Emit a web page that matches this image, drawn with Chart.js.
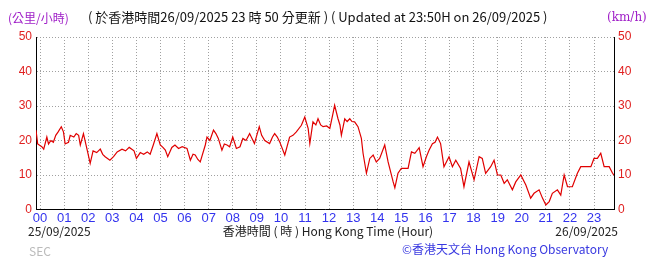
<!DOCTYPE html>
<html>
<head>
<meta charset="utf-8">
<script src="https://cdn.jsdelivr.net/npm/chart.js@4"></script>
<style>
  body { margin: 0; background: #fff; }
  #wrap { width: 655px; height: 259px; }
</style>
</head>
<body>
<div id="wrap"><canvas id="windChart" width="655" height="259"></canvas></div>
<script>
// time of each reading, hours after 00:00 HKT on 25/09/2025
const hours = [
  -0.17, -0.1, 0.07, 0.15, 0.28, 0.35, 0.45, 0.55, 0.65, 0.75, 0.88, 0.97,
  1.04, 1.18, 1.25, 1.4, 1.5, 1.6, 1.67, 1.8, 1.94, 2.08, 2.2, 2.35, 2.5, 2.6,
  2.7, 2.9, 3.05, 3.2, 3.4, 3.55, 3.7, 3.9, 4.0, 4.16, 4.3, 4.45, 4.57, 4.7,
  4.85, 4.99, 5.1, 5.2, 5.3, 5.47, 5.6, 5.75, 5.9, 6.1, 6.24, 6.35, 6.44, 6.55,
  6.65, 6.86, 6.93, 7.05, 7.2, 7.3, 7.4, 7.55, 7.65, 7.76, 7.87, 8.0, 8.15,
  8.3, 8.42, 8.55, 8.7, 8.9, 9.1, 9.2, 9.33, 9.53, 9.65, 9.74, 9.85, 9.95,
  10.16, 10.36, 10.5, 10.64, 10.85, 10.99, 11.13, 11.2, 11.33, 11.45, 11.54,
  11.65, 11.75, 11.9, 12.03, 12.16, 12.23, 12.37, 12.45, 12.51, 12.65, 12.75,
  12.86, 12.95, 13.06, 13.2, 13.34, 13.41, 13.55, 13.69, 13.83, 13.96, 14.1,
  14.31, 14.45, 14.66, 14.73, 14.86, 15.0, 15.28, 15.42, 15.56, 15.74, 15.9,
  16.04, 16.15, 16.29, 16.4, 16.5, 16.63, 16.77, 16.98, 17.12, 17.26, 17.46,
  17.6, 17.81, 18.02, 18.23, 18.36, 18.5, 18.71, 18.85, 18.99, 19.13, 19.27,
  19.4, 19.61, 19.75, 19.96, 20.17, 20.37, 20.51, 20.72, 20.86, 21.0, 21.14,
  21.27, 21.48, 21.62, 21.76, 21.9, 22.1, 22.31, 22.45, 22.66, 22.87, 23.0,
  23.14, 23.28, 23.42, 23.63, 23.77, 23.83
];
// wind speed, km/h
const speeds = [
  23, 19, 18.2, 17.5, 21, 19, 20, 19.5, 21.5, 22.5, 24, 22.5,
  19, 19.5, 21.5, 21, 22, 21.5, 18.7, 22, 17.7, 13.4, 17, 16.5, 17.5, 16,
  15.3, 14.3, 15.3, 16.7, 17.5, 17, 18, 17, 14.8, 16.5, 16, 16.7, 16, 18.7,
  22, 18.7, 18, 17.2, 15.3, 18, 18.7, 17.7, 18.2, 17.7, 14.3, 16, 15.8, 14.5,
  13.8, 18.7, 21, 20, 23, 22, 20.6, 17.2, 19, 18.7, 18.2, 21, 17.7,
  18.2, 20.6, 20, 22, 19.1, 24, 21.5, 20, 19.1, 21, 22, 21, 19.6,
  15.8, 21, 21.5, 22.5, 24.4, 26.8, 23.5, 19.1, 25.4, 24.5, 26.3,
  24.5, 24, 24.2, 23.5, 27.8, 30.2, 26.3, 24.5, 21.5, 26.3, 25.5,
  26.3, 25.5, 25.4, 24, 20.6, 16.3, 10.5, 14.8, 15.8, 13.8, 14.8,
  18.7, 13.8, 8, 6.3, 10.5, 11.9, 11.9, 16.7, 16.3, 17.9, 12.4,
  15.3, 17.2, 19.1, 19.5, 21, 19.1, 12.4, 15.3, 12.4, 14.3, 11.9,
  6.6, 13.8, 8.6, 15.3, 14.8, 10.5, 12.4, 14.3, 10, 10, 7.6,
  8.6, 5.7, 8, 10, 7.1, 3.3, 4.7, 5.7, 3.3, 1.3, 2.3,
  4.7, 5.7, 4.2, 10, 6.6, 6.6, 10.5, 12.4, 12.4, 12.4, 14.8,
  14.8, 16.3, 12.4, 12.4, 10.5, 10
];
const hourTicks = [0, 1, 2, 3, 4, 5, 6, 7, 8, 9, 10, 11, 12, 13, 14, 15, 16, 17, 18, 19, 20, 21, 22, 23];
const hourLabels = ["00", "01", "02", "03", "04", "05", "06", "07", "08", "09", "10", "11",
  "12", "13", "14", "15", "16", "17", "18", "19", "20", "21", "22", "23"];
const speedTicks = [0, 10, 20, 30, 40, 50];

const points = hours.map((h, i) => ({ x: h, y: speeds[i] }));

const cjk = "'Noto Sans CJK TC', 'Open Sans', sans-serif";
const narrow = "'Liberation Sans Narrow', 'Liberation Sans', Arial, sans-serif";

// header, footer and unit texts
const textPlugin = {
  id: "texts",
  afterDraw(chart) {
    const ctx = chart.ctx;
    ctx.save();
    ctx.textBaseline = "middle";
    ctx.textAlign = "left";

    ctx.fillStyle = "#a020c8";
    ctx.font = "12px " + cjk;
    ctx.fillText("(公里/小時)", 8, 18);
    ctx.font = "12px 'DejaVu Serif', serif";
    ctx.fillText("(km/h)", 607, 18);

    ctx.fillStyle = "#111";
    ctx.font = "13px " + cjk;
    ctx.fillText("( 於香港時間26/09/2025 23 時 50 分更新 ) ( Updated at 23:50H on 26/09/2025 )", 88, 17);

    ctx.font = "12px " + cjk;
    ctx.fillStyle = "#222";
    ctx.fillText("25/09/2025", 28, 231);
    ctx.textAlign = "center";
    ctx.fillText("香港時間 ( 時 ) Hong Kong Time (Hour)", 328, 231);
    ctx.textAlign = "right";
    ctx.fillText("26/09/2025", 618, 231);

    ctx.textAlign = "left";
    ctx.fillStyle = "#bbb";
    ctx.fillText("SEC", 29, 251);
    ctx.fillStyle = "#3838e0";
    ctx.font = "12px " + cjk;
    ctx.fillText("©香港天文台 Hong Kong Observatory", 402, 249);
    ctx.restore();
  }
};

const config = {
  type: "line",
  data: {
    datasets: [
      {
        data: points,
        borderColor: "#e00000",
        borderWidth: 1.2,
        pointRadius: 0,
        tension: 0,
        fill: false,
        yAxisID: "y",
      },
    ],
  },
  options: {
    responsive: false,
    animation: false,
    events: [],
    layout: { padding: { top: 37, left: 0, right: 0, bottom: 0 } },
    plugins: {
      legend: { display: false },
      tooltip: { enabled: false },
    },
    scales: {
      x: {
        type: "linear",
        min: -0.17,
        max: 23.83,
        afterBuildTicks: (scale) => {
          scale.ticks = hourTicks.map((v) => ({ value: v }));
        },
        afterFit: (scale) => {
          scale.height = 49.5;
        },
        grid: {
          color: "#a0a0a0",
          lineWidth: 1,
          drawTicks: false,
        },
        border: { display: true, color: "#000", width: 1, dash: [1, 2] },
        ticks: {
          color: "#3333ee",
          font: { family: narrow, size: 13 },
          padding: 1,
          maxRotation: 0,
          autoSkip: false,
          callback: (value, index) => hourLabels[index],
        },
      },
      y: {
        position: "left",
        min: 0,
        max: 50,
        afterBuildTicks: (scale) => {
          scale.ticks = speedTicks.map((v) => ({ value: v }));
        },
        afterFit: (scale) => {
          scale.width = 36;
        },
        grid: { color: "#a0a0a0", lineWidth: 1, drawTicks: false },
        border: { display: true, color: "#000", width: 1, dash: [1, 2] },
        ticks: {
          color: "#e02020",
          font: { family: narrow, size: 12 },
          padding: 4,
        },
      },
      y2: {
        position: "right",
        min: 0,
        max: 50,
        afterBuildTicks: (scale) => {
          scale.ticks = speedTicks.map((v) => ({ value: v }));
        },
        afterFit: (scale) => {
          scale.width = 41;
        },
        grid: { display: false, drawTicks: false },
        border: { display: true, color: "#000", width: 1 },
        ticks: {
          color: "#e02020",
          font: { family: narrow, size: 12 },
          padding: 4,
        },
      },
    },
  },
  plugins: [textPlugin],
};

const windChart = new Chart(document.getElementById("windChart"), config);
</script>
</body>
</html>
